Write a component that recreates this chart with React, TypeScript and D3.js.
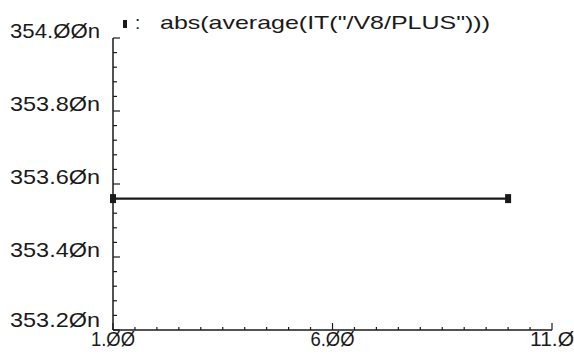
import React from "react";
import * as d3 from "d3";

// sweep points and the measured value (in nA)
const sweepX = [1, 10];
const avgCurrent = [353.56, 353.56];

const yTicks = [353.2, 353.4, 353.6, 353.8, 354.0];
const yTickLabels = ["353.2Øn", "353.4Øn", "353.6Øn", "353.8Øn", "354.ØØn"];
const xTicks = [1, 6, 11];
const xTickLabels = ["1.ØØ", "6.ØØ", "11.Ø"];
const traceName = "abs(average(IT(\"/V8/PLUS\")))";

const W = 574;
const H = 361;
const ink = "#1a1a1a";
const font = "'Liberation Sans', Arial, sans-serif";

const App = () => {
  const x = d3.scaleLinear().domain([1, 11]).range([113, 552]);
  const y = d3.scaleLinear().domain([353.2, 354.0]).range([330, 38]);

  const line = d3.line<number>()
    .x((d, i) => x(sweepX[i]))
    .y(d => y(d));

  // minor ticks: 0.5 on x, 0.04 on y
  const xMinor = d3.range(0, 21).map(i => 1 + i * 0.5);
  const yMinor = d3.range(0, 21).map(i => 353.2 + i * 0.04);

  return (
    <svg width={W} height={H} style={{ position: "absolute", left: 0, top: 0, background: "#fff" }}>
      {/* axes */}
      <line x1={x(1)} x2={x(1)} y1={y(354.0)} y2={y(353.2)} stroke={ink} strokeWidth={1.5} />
      <line x1={x(1)} x2={x(11)} y1={y(353.2)} y2={y(353.2)} stroke={ink} strokeWidth={1.5} />

      {yMinor.map((v, i) => (
        <line key={"ym" + i} x1={x(1)} x2={x(1) + (i % 5 === 0 ? 7 : 4)} y1={y(v)} y2={y(v)}
          stroke={ink} strokeWidth={1.2} />
      ))}
      {xMinor.map((v, i) => (
        <line key={"xm" + i} x1={x(v)} x2={x(v)} y1={y(353.2)} y2={y(353.2) - (i % 10 === 0 ? 7 : 3)}
          stroke={ink} strokeWidth={1.2} />
      ))}

      {yTicks.map((v, i) => (
        <text key={"yl" + i} x={10} y={y(v) - (i === 0 ? 3 : 0)} fontFamily={font} fontSize={21}
          fill={ink} textLength={90} lengthAdjust="spacingAndGlyphs">{yTickLabels[i]}</text>
      ))}
      {xTicks.map((v, i) => (
        <text key={"xl" + i} x={x(v)} y={346} fontFamily={font} fontSize={20} fill={ink}
          textAnchor="middle" textLength={44} lengthAdjust="spacingAndGlyphs">{xTickLabels[i]}</text>
      ))}

      {/* trace */}
      <path d={line(avgCurrent) || ""} fill="none" stroke={ink} strokeWidth={2.2} />
      {avgCurrent.map((v, i) => (
        <rect key={"m" + i} x={x(sweepX[i]) - 3} y={y(v) - 4.5} width={6} height={9} fill={ink} />
      ))}

      {/* legend */}
      <rect x={123} y={20} width={4} height={8} fill={ink} />
      <text x={135} y={29} fontFamily={font} fontSize={19} fill={ink}>:</text>
      <text x={160} y={29} fontFamily={font} fontSize={19} fill={ink}
        textLength={330} lengthAdjust="spacingAndGlyphs">{traceName}</text>
    </svg>
  );
};

export default App;
